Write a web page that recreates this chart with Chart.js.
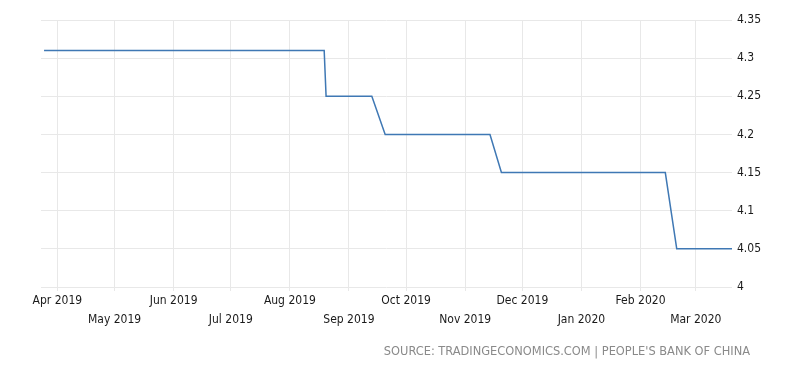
<!DOCTYPE html>
<html>
<head>
<meta charset="utf-8">
<script src="https://cdn.jsdelivr.net/npm/chart.js@4/dist/chart.umd.min.js"></script>
<style>
    html, body { margin: 0; padding: 0; background: #fff; }
    #wrap { position: relative; width: 800px; height: 372px; }
    #source {
        position: absolute; right: 50px; top: 343px;
        font: 12.7px "DejaVu Sans Condensed", "DejaVu Sans", sans-serif; color: #8a8a8a;
        white-space: nowrap;
    }
</style>
</head>
<body>
<div id="wrap">
    <canvas id="rate" width="800" height="372"></canvas>
    <div id="source">SOURCE: TRADINGECONOMICS.COM | PEOPLE'S BANK OF CHINA</div>
</div>
<script>
// loan prime rate, one year (step changes)
let rateDates = ['2019-03-25', '2019-08-19', '2019-08-20', '2019-09-13', '2019-09-20',
    '2019-11-14', '2019-11-20', '2020-02-14', '2020-02-20', '2020-03-20'];
let rateValues = [4.31, 4.31, 4.25, 4.25, 4.20, 4.20, 4.15, 4.15, 4.05, 4.05];

let monthTicks = ['2019-04-01', '2019-05-01', '2019-06-01', '2019-07-01', '2019-08-01', '2019-09-01',
    '2019-10-01', '2019-11-01', '2019-12-01', '2020-01-01', '2020-02-01', '2020-03-01'];
let monthLabels = ['Apr 2019', 'May 2019', 'Jun 2019', 'Jul 2019', 'Aug 2019', 'Sep 2019',
    'Oct 2019', 'Nov 2019', 'Dec 2019', 'Jan 2020', 'Feb 2020', 'Mar 2020'];

let yTicks = [4, 4.05, 4.1, 4.15, 4.2, 4.25, 4.3, 4.35];

// days since 2019-01-01
function toDay(s){
    let p = s.split('-');
    return (Date.UTC(+p[0], +p[1] - 1, +p[2]) - Date.UTC(2019, 0, 1)) / 86400000;
}

let points = rateDates.map((d, i) => ({x: toDay(d), y: rateValues[i]}));
let tickDays = monthTicks.map(toDay);

let font = {family: '"DejaVu Sans Condensed", "DejaVu Sans", sans-serif', size: 12, lineHeight: 1.6};

new Chart(document.getElementById('rate').getContext('2d'), {
    type: 'line',
    data: {
        datasets: [{
            data: points,
            borderColor: '#3f78b4',
            borderWidth: 1.5,
            pointRadius: 0,
            tension: 0,
            fill: false
        }]
    },
    options: {
        responsive: false,
        animation: false,
        events: [],
        layout: {padding: {left: 41, top: 20, right: 0, bottom: 0}},
        plugins: {legend: {display: false}, tooltip: {enabled: false}},
        scales: {
            x: {
                type: 'linear',
                min: toDay('2019-03-25') - 1.6,
                max: toDay('2020-03-20'),
                border: {display: false},
                grid: {color: '#e8e8e8', lineWidth: 1, tickLength: 4},
                afterBuildTicks: (scale) => {
                    scale.ticks = tickDays.map(v => ({value: v}));
                },
                afterFit: (scale) => { scale.height = 85; },
                ticks: {
                    autoSkip: false,
                    maxRotation: 0,
                    padding: 0,
                    color: '#1a1a1a',
                    font: font,
                    callback: (v) => {
                        let i = tickDays.indexOf(v);
                        return i % 2 === 0 ? monthLabels[i] : ['', monthLabels[i]];
                    }
                }
            },
            y: {
                position: 'right',
                min: 4,
                max: 4.35,
                border: {display: false},
                grid: {color: '#e8e8e8', lineWidth: 1, drawTicks: false},
                afterBuildTicks: (scale) => {
                    scale.ticks = yTicks.map(v => ({value: v}));
                },
                afterFit: (scale) => { scale.width = 68; },
                ticks: {
                    padding: 5,
                    color: '#1a1a1a',
                    font: {family: font.family, size: 12},
                    callback: (v) => String(Number(v.toFixed(2)))
                }
            }
        }
    }
});
</script>
</body>
</html>
